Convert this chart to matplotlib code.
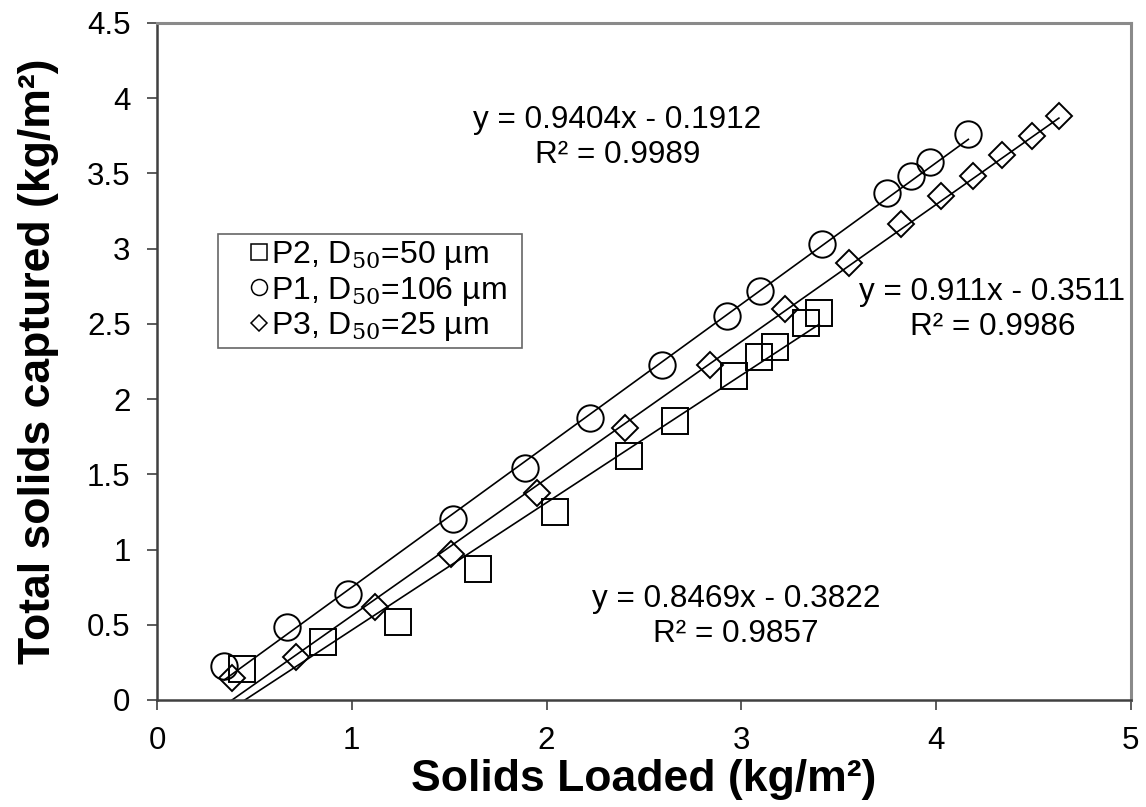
import matplotlib
matplotlib.use("Agg")
import matplotlib.pyplot as plt
from matplotlib.lines import Line2D
from matplotlib.legend_handler import HandlerLine2D
import numpy as np

plt.rcParams['font.family'] = ['Liberation Sans', 'DejaVu Sans']
plt.rcParams['mathtext.fontset'] = 'custom'
plt.rcParams['mathtext.rm'] = 'DejaVu Serif'
plt.rcParams['mathtext.it'] = 'DejaVu Serif:italic'

# P2, D50 = 50 um (squares)
p2_x = [0.434, 0.853, 1.237, 1.648, 2.046, 2.422, 2.662, 2.961, 3.092, 3.174, 3.332, 3.400]
p2_y = [0.206, 0.384, 0.521, 0.869, 1.252, 1.624, 1.857, 2.154, 2.279, 2.349, 2.505, 2.571]
# P1, D50 = 106 um (circles)
p1_x = [0.345, 0.665, 0.981, 1.520, 1.891, 2.224, 2.591, 2.927, 3.097, 3.414, 3.750, 3.870, 3.969, 4.166]
p1_y = [0.228, 0.483, 0.703, 1.201, 1.545, 1.873, 2.227, 2.555, 2.719, 3.032, 3.369, 3.484, 3.575, 3.763]
# P3, D50 = 25 um (diamonds)
p3_x = [0.383, 0.716, 1.118, 1.511, 1.952, 2.405, 2.841, 3.224, 3.554, 3.819, 4.024, 4.190, 4.340, 4.491, 4.631]
p3_y = [0.148, 0.288, 0.620, 0.969, 1.374, 1.811, 2.227, 2.598, 2.908, 3.163, 3.351, 3.484, 3.624, 3.750, 3.883]

# Trendline coefficients (slope, intercept, R^2)
p1_fit = (0.9404, -0.1912, 0.9989)
p2_fit = (0.8469, -0.3822, 0.9857)
p3_fit = (0.911, -0.3511, 0.9986)

legend_labels = ['P2, D$_{50}$=50 µm', 'P1, D$_{50}$=106 µm', 'P3, D$_{50}$=25 µm']

fig = plt.figure(figsize=(11.46, 8.07), dpi=100)
ax = fig.add_axes([0.137, 0.1326, 0.8497, 0.8389])

def trend(xs, fit):
    xx = np.array([min(xs), max(xs)])
    return xx, fit[0] * xx + fit[1]

for xs, fit in [(p2_x, p2_fit), (p1_x, p1_fit), (p3_x, p3_fit)]:
    tx, ty = trend(xs, fit)
    ax.plot(tx, ty, color='black', lw=1.2, zorder=2)

mk = dict(linestyle='none', markerfacecolor='none', markeredgecolor='black', markeredgewidth=1.4, zorder=3)
ax.plot(p2_x, p2_y, marker='s', markersize=19, **mk)
ax.plot(p1_x, p1_y, marker='o', markersize=19, **mk)
ax.plot(p3_x, p3_y, marker='D', markersize=13.5, **mk)

ax.set_xlim(0, 5)
ax.set_ylim(0, 4.5)
ax.set_xticks([0, 1, 2, 3, 4, 5])
ax.set_xticklabels(['0', '1', '2', '3', '4', '5'])
ax.set_yticks([0, 0.5, 1, 1.5, 2, 2.5, 3, 3.5, 4, 4.5])
ax.set_yticklabels(['0', '0.5', '1', '1.5', '2', '2.5', '3', '3.5', '4', '4.5'])
ax.tick_params(axis='both', direction='out', length=7, width=1.2, color='#404040',
               labelsize=22.5)
ax.tick_params(axis='y', pad=12)
ax.tick_params(axis='x', pad=12)

for s in ['left', 'bottom']:
    ax.spines[s].set_color('#404040')
    ax.spines[s].set_linewidth(1.8)
for s in ['top', 'right']:
    ax.spines[s].set_color('#8a8a8a')
    ax.spines[s].set_linewidth(2.2)

ax.set_xlabel('Solids Loaded (kg/m²)', fontsize=32, fontweight='bold', labelpad=2)
ax.set_ylabel('Total solids captured (kg/m²)', fontsize=32, fontweight='bold', labelpad=20)

def eq_text(fit):
    sign = '-' if fit[1] < 0 else '+'
    return f'y = {fit[0]:g}x {sign} {abs(fit[1]):g}\nR² = {fit[2]:g}'

txt = dict(fontsize=22.7, ha='center', va='center', linespacing=1.2)
ax.text(2.364, 3.74, eq_text(p1_fit), **txt)
ax.text(4.29, 2.595, eq_text(p3_fit), **txt)
ax.text(2.974, 0.555, eq_text(p2_fit), **txt)


class RightMarkerHandler(HandlerLine2D):
    def create_artists(self, legend, orig_handle, xdescent, ydescent, width, height, fontsize, trans):
        arts = super().create_artists(legend, orig_handle, xdescent, ydescent, width, height, fontsize, trans)
        for a in arts:
            xd = np.asarray(a.get_xdata(), dtype=float)
            a.set_xdata(np.full(len(xd), width - xdescent - 6.0))
        return arts


handles = [
    Line2D([], [], marker='s', linestyle='none', markerfacecolor='none', markeredgecolor='black', markersize=11, markeredgewidth=1.1),
    Line2D([], [], marker='o', linestyle='none', markerfacecolor='none', markeredgecolor='black', markersize=11.5, markeredgewidth=1.1),
    Line2D([], [], marker='D', linestyle='none', markerfacecolor='none', markeredgecolor='black', markersize=8, markeredgewidth=1.1),
]
labels_padded = [lab + '  ' for lab in legend_labels]
leg = ax.legend(handles, labels_padded, loc='upper left', bbox_to_anchor=(0.0626, 0.688),
                fontsize=23, frameon=True, fancybox=False, edgecolor='#404040',
                handlelength=1.4, handletextpad=0.1, borderpad=0.15, labelspacing=0.08,
                borderaxespad=0, handler_map={Line2D: RightMarkerHandler(numpoints=1)})
leg.get_frame().set_linewidth(1.2)

fig.savefig('out.png', dpi=100)
